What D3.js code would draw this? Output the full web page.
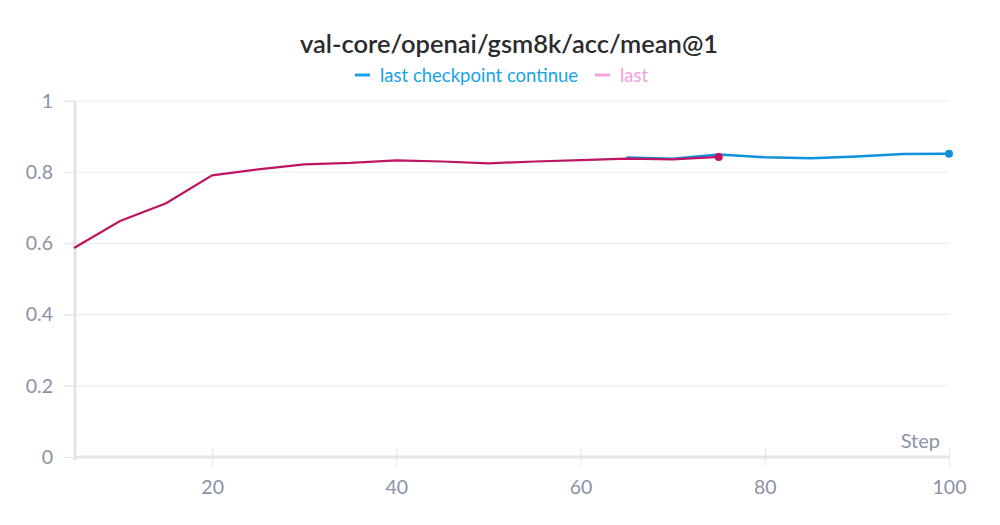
<!DOCTYPE html>
<html>
<head>
<meta charset="utf-8">
<script src="https://cdn.jsdelivr.net/npm/d3@7"></script>
<style>
  body { margin: 0; background: #fff; }
  #chart { width: 1000px; height: 525px; }
  text { font-family: "Source Sans Pro", Lato, "Noto Sans", sans-serif; }
</style>
</head>
<body>
<div id="chart"></div>
<script>
// values
const lastSteps = [5, 10, 15, 20, 25, 30, 35, 40, 45, 50, 55, 60, 65, 70, 75]
const lastValues = [0.587, 0.663, 0.713, 0.791, 0.808, 0.822, 0.826, 0.833, 0.830, 0.825, 0.830, 0.834, 0.838, 0.836, 0.843]
const contSteps = [65, 70, 75, 80, 85, 90, 95, 100]
const contValues = [0.841, 0.838, 0.850, 0.842, 0.839, 0.844, 0.851, 0.852]
const yTicks = [0, 0.2, 0.4, 0.6, 0.8, 1]
const xTicks = [20, 40, 60, 80, 100]

const W = 1000, H = 525
const svg = d3.select("#chart").append("svg").attr("width", W).attr("height", H)

const x = d3.scaleLinear().domain([5, 100]).range([74, 949])
const y = d3.scaleLinear().domain([0, 1]).range([457, 101])

// grid
svg.append("g")
   .selectAll("line")
   .data(yTicks.filter(d => d > 0))
   .enter()
   .append("line")
   .attr("x1", 64).attr("x2", 949)
   .attr("y1", d => y(d)).attr("y2", d => y(d))
   .attr("stroke", "#ebebeb").attr("stroke-width", 1)

// y axis
const yAxis = svg.append("g")
   .attr("transform", "translate(74,0)")
   .call(d3.axisLeft(y).tickValues(yTicks).tickFormat(d3.format("~g")).tickSize(10).tickPadding(11))
yAxis.select(".domain").remove()
yAxis.selectAll(".tick line").attr("stroke", "#e6e6e6")
yAxis.selectAll("text").attr("fill", "#8a92a6").style("font-size", "19.5px")
svg.append("line")
   .attr("x1", 75).attr("x2", 75).attr("y1", 101).attr("y2", 460)
   .attr("stroke", "#e4e4e6").attr("stroke-width", 3)

// x axis
const xAxis = svg.append("g")
   .attr("transform", "translate(0,457)")
   .call(d3.axisBottom(x).tickValues(xTicks).tickSize(10).tickPadding(13))
xAxis.select(".domain").remove()
xAxis.selectAll(".tick line").attr("stroke", "#e6e6e6").attr("y1", -9)
xAxis.selectAll("text").attr("fill", "#8a92a6").style("font-size", "19.5px")
svg.append("line")
   .attr("x1", 74).attr("x2", 949).attr("y1", 457).attr("y2", 457)
   .attr("stroke", "#e4e4e6").attr("stroke-width", 3)

svg.append("text")
   .attr("x", 940).attr("y", 448).attr("text-anchor", "end")
   .attr("fill", "#8a92a6").style("font-size", "20px")
   .text("Step")

// lines
const line = d3.line().x(d => x(d[0])).y(d => y(d[1]))
const contData = contSteps.map((s, i) => [s, contValues[i]])
const lastData = lastSteps.map((s, i) => [s, lastValues[i]])

svg.append("path").datum(contData)
   .attr("d", line).attr("fill", "none")
   .attr("stroke", "#1190dc").attr("stroke-width", 2.5)
svg.append("circle")
   .attr("cx", x(contData[contData.length - 1][0])).attr("cy", y(contData[contData.length - 1][1]))
   .attr("r", 4).attr("fill", "#1190dc")

svg.append("path").datum(lastData)
   .attr("d", line).attr("fill", "none")
   .attr("stroke", "#bf1463").attr("stroke-width", 2.2)
svg.append("circle")
   .attr("cx", x(lastData[lastData.length - 1][0])).attr("cy", y(lastData[lastData.length - 1][1]))
   .attr("r", 4).attr("fill", "#bf1463")

// title
svg.append("text")
   .attr("x", 509).attr("y", 53).attr("text-anchor", "middle")
   .attr("fill", "#2b2b2e").style("font-size", "25.5px").style("font-weight", 600)
   .text("val-core/openai/gsm8k/acc/mean@1")

// legend
const legend = [
  { name: "last checkpoint continue", color: "#16a3ea", x: 355 },
  { name: "last", color: "#f59ee0", x: 595 }
]
legend.forEach(l => {
  svg.append("line")
     .attr("x1", l.x).attr("x2", l.x + 15).attr("y1", 75).attr("y2", 75)
     .attr("stroke", l.color).attr("stroke-width", 3)
  svg.append("text")
     .attr("x", l.x + 25).attr("y", 82)
     .attr("fill", l.color).style("font-size", "18.5px")
     .text(l.name)
})
</script>
</body>
</html>
